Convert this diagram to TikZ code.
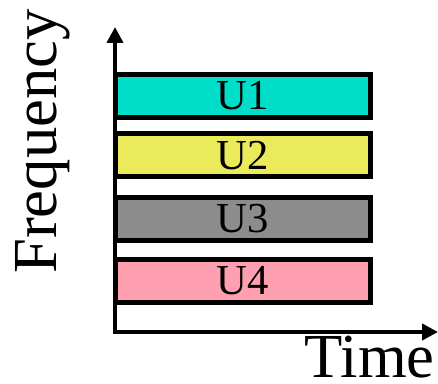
\documentclass[tikz,border=0pt]{standalone}
\usepackage{fontspec}
\setmainfont{Liberation Serif}
\usetikzlibrary{arrows.meta}
\definecolor{cUa}{RGB}{0,221,200}
\definecolor{cUb}{RGB}{234,234,90}
\definecolor{cUc}{RGB}{140,140,140}
\definecolor{cUd}{RGB}{255,160,176}
\begin{document}
\begin{tikzpicture}[x=0.75pt,y=-0.75pt,
  band/.style={draw=black,line width=3.75pt,minimum width=191.25pt,minimum height=32.25pt,inner sep=0pt,
    font=\fontsize{32}{32}\selectfont},
  axis/.style={line width=3.3pt,{Triangle[length=12pt,width=12pt]}-{Triangle[length=12pt,width=12pt]}},
  biglab/.style={font=\fontsize{47}{47}\selectfont,inner sep=0pt}]
\useasboundingbox (0,0) rectangle (438,384);
\coordinate (o) at (115,332);
\coordinate (ytop) at (115,27);
\coordinate (xend) at (438,332);
\draw[axis] (ytop) -- (o) -- (xend);
\node[band,fill=cUa] (u1) at (243,96) {U1};
\node[band,fill=cUb] (u2) at (243,155.5) {U2};
\node[band,fill=cUc] (u3) at (243,219) {U3};
\node[band,fill=cUd] (u4) at (243,281) {U4};
\node[biglab,anchor=base east] (time) at (435,377) {Time};
\node[biglab,anchor=base west,rotate=90] (freq) at (56,274) {Frequency};
\end{tikzpicture}
\end{document}
